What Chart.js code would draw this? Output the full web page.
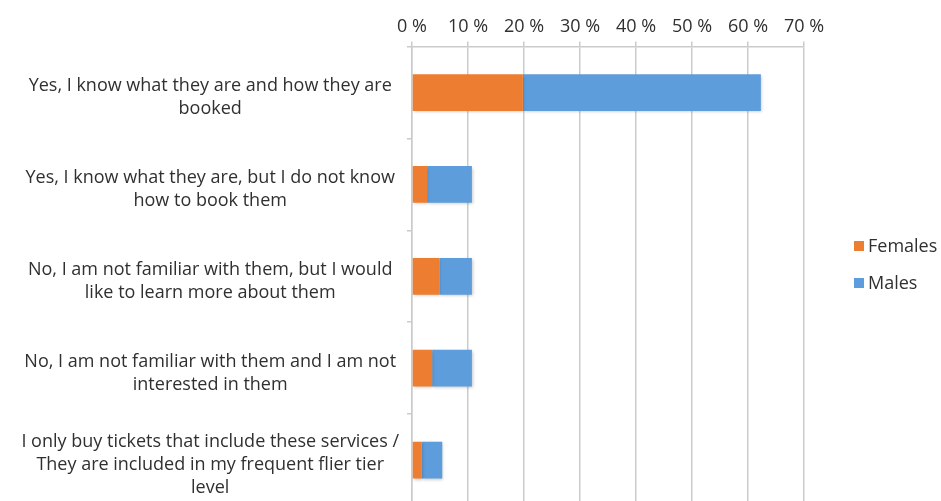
<!DOCTYPE html>
<html>
<head>
<meta charset="utf-8">
<script src="https://cdn.jsdelivr.net/npm/chart.js@4"></script>
<style>
  html, body { margin: 0; padding: 0; background: #fff; overflow: hidden; }
  #wrap { width: 941px; height: 506px; }
</style>
</head>
<body>
<div id="wrap"><canvas id="grafica" width="941" height="506"></canvas></div>
<script>
const labels = [
	['Yes, I know what they are and how they are', 'booked'],
	['Yes, I know what they are, but I do not know', 'how to book them'],
	['No, I am not familiar with them, but I would', 'like to learn more about them'],
	['No, I am not familiar with them and I am not', 'interested in them'],
	['I only buy tickets that include these services /', 'They are included in my frequent flier tier', 'level']
]
const females = [19.8, 2.7, 4.9, 3.6, 1.7]
const males = [42.5, 8.0, 5.8, 7.1, 3.7]
const axisTicks = [0, 10, 20, 30, 40, 50, 60, 70]

const FONT = "'Open Sans', sans-serif"
const TEXT = '#303030'
const GRID = '#cbcbcb'

const graph = document.querySelector("#grafica");

// legend drawn by hand on the right side, one row per dataset
const sideLegend = {
	id: 'sideLegend',
	afterDraw(chart) {
		const ctx = chart.ctx
		ctx.save()
		ctx.font = '18px ' + FONT
		ctx.textBaseline = 'middle'
		chart.data.datasets.forEach((ds, i) => {
			const y = 246 + i * 37
			ctx.fillStyle = ds.backgroundColor
			ctx.fillRect(854, y - 5, 10, 10)
			ctx.fillStyle = TEXT
			ctx.fillText(ds.label, 868, y + 1)
		})
		ctx.restore()
	}
}

// soft drop shadow under the bars
const barShadow = {
	id: 'barShadow',
	beforeDatasetsDraw(chart) {
		const ctx = chart.ctx
		ctx.save()
		ctx.shadowColor = 'rgba(0,0,0,0.22)'
		ctx.shadowBlur = 3
		ctx.shadowOffsetX = 1
		ctx.shadowOffsetY = 1.5
	},
	afterDatasetsDraw(chart) {
		chart.ctx.restore()
	}
}

const data = {
	labels: labels,
	datasets: [{
		label: 'Females',
		data: females,
		backgroundColor: '#ED7D31',
		categoryPercentage: 0.8,
		barPercentage: 0.5
	}, {
		label: 'Males',
		data: males,
		backgroundColor: '#5E9DDB',
		categoryPercentage: 0.8,
		barPercentage: 0.5
	}]
};

const config = {
	type: 'bar',
	data: data,
	plugins: [barShadow, sideLegend],
	options: {
		indexAxis: 'y',
		responsive: false,
		animation: false,
		devicePixelRatio: 1,
		layout: { padding: { top: 12, right: 137, bottom: 0, left: 0 } },
		plugins: {
			legend: { display: false },
			tooltip: { enabled: false }
		},
		scales: {
			x: {
				position: 'top',
				stacked: true,
				min: 0,
				max: 70,
				afterBuildTicks: (scale) => { scale.ticks = axisTicks.map(v => ({ value: v })) },
				ticks: {
					callback: (v) => v + ' %',
					color: TEXT,
					font: { family: FONT, size: 18 },
					padding: 4
				},
				grid: { color: GRID, lineWidth: 1.5, tickLength: 5 },
				border: { color: GRID, width: 1.5 }
			},
			y: {
				stacked: true,
				afterFit: (scale) => {
					scale.width = 412
					scale.paddingTop = 0
					scale.paddingBottom = 0
				},
				ticks: {
					crossAlign: 'center',
					color: TEXT,
					font: { family: FONT, size: 18, lineHeight: 1.28 },
					padding: 8,
					labelOffset: 5
				},
				grid: { drawOnChartArea: false, color: GRID, lineWidth: 1.5, tickLength: 5 },
				border: { color: GRID, width: 1.5 }
			}
		}
	}
};
new Chart(graph, config);
</script>
</body>
</html>
